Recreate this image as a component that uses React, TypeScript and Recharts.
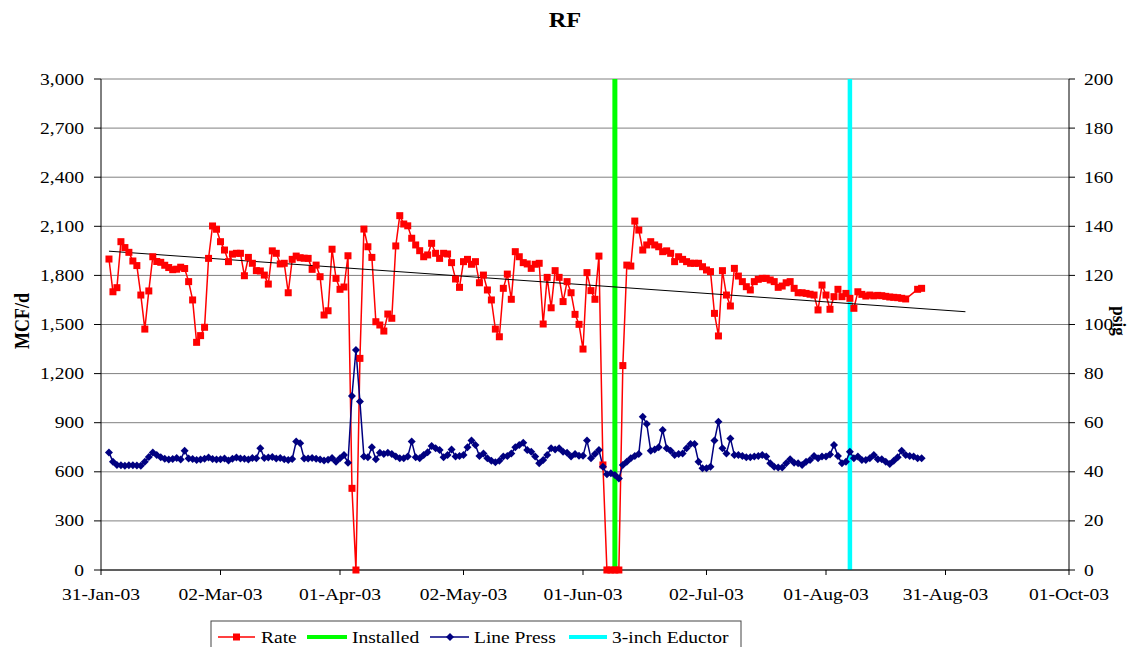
import React from "react";
import { CartesianGrid, ComposedChart, Line, XAxis, YAxis } from "recharts";

// Daily readings, first reading on day 2 (days counted from 31-Jan-03)
const FIRST_DAY = 2;

const rateMcfd: (number | null)[] = [
  1900, 1700, 1725, 2006, 1970, 1941, 1888, 1860, 1680, 1472,
  1705, 1914, 1885, 1880, 1862, 1848, 1835, 1838, 1850, 1842,
  1762, 1650, 1391, 1432, 1483, 1904, 2102, 2082, 2006, 1955,
  1884, 1930, 1935, 1935, 1798, 1910, 1874, 1829, 1827, 1802,
  1747, 1950, 1935, 1870, 1874, 1694, 1898, 1918, 1908, 1905,
  1904, 1837, 1863, 1792, 1558, 1584, 1960, 1782, 1715, 1729,
  1920, 499, 0, 1293, 2083, 1975, 1910, 1517, 1497, 1460,
  1564, 1538, 1980, 2165, 2114, 2103, 2027, 1986, 1951, 1914,
  1925, 1996, 1935, 1904, 1935, 1931, 1878, 1778, 1727, 1884,
  1898, 1868, 1884, 1755, 1802, 1711, 1650, 1472, 1425, 1721,
  1808, 1654, 1945, 1914, 1878, 1870, 1843, 1868, 1874, 1503,
  1788, 1602, 1829, 1788, 1640, 1762, 1694, 1562, 1501, 1350,
  1817, 1707, 1654, 1918, 642, 0, 0, 0, 0, 1249,
  1863, 1857, 2132, 2077, 1955, 1986, 2006, 1986, 1975, 1945,
  1950, 1935, 1884, 1914, 1898, 1884, 1874, 1874, 1874, 1853,
  1833, 1823, 1568, 1430, 1829, 1680, 1613, 1843, 1796, 1762,
  1731, 1711, 1762, 1776, 1782, 1782, 1772, 1762, 1727, 1735,
  1755, 1762, 1721, 1694, 1694, 1690, 1685, 1680, 1589, 1741,
  1680, 1593, 1670, 1715, 1670, 1690, 1660, 1599, 1700, 1684,
  1674, 1680, 1675, 1678, 1676, 1672, 1668, 1666, 1664, 1660,
  1656, null, null, 1715, 1721,
];

const linePressPsig: number[] = [
  47.9, 44.1, 42.8, 42.7, 42.5, 42.7, 42.7, 42.6, 42.5, 44.1,
  46.0, 47.9, 46.8, 45.9, 45.3, 45.0, 45.2, 45.6, 45.0, 48.6,
  45.4, 45.2, 44.8, 45.0, 45.3, 45.8, 45.2, 45.0, 45.1, 45.4,
  44.6, 45.3, 45.8, 45.4, 45.3, 45.0, 45.6, 45.5, 49.6, 45.6,
  45.8, 46.0, 45.4, 45.6, 45.1, 44.8, 45.2, 52.3, 51.6, 45.4,
  45.4, 45.6, 45.3, 45.0, 44.6, 44.9, 45.6, 44.1, 45.5, 46.8,
  43.7, 70.9, 89.6, 68.6, 46.2, 45.9, 50.0, 45.1, 47.8, 47.2,
  47.8, 47.2, 46.2, 45.5, 45.5, 46.2, 52.3, 45.9, 45.5, 46.8,
  48.0, 50.5, 49.6, 48.9, 45.9, 46.8, 49.1, 46.2, 46.4, 46.8,
  50.0, 52.7, 50.9, 46.4, 47.5, 45.5, 44.5, 43.9, 44.5, 46.2,
  46.4, 47.5, 50.0, 50.9, 51.8, 48.9, 48.2, 46.2, 43.5, 44.8,
  46.8, 49.6, 49.1, 49.6, 48.2, 47.8, 46.2, 47.2, 46.5, 46.5,
  52.7, 45.5, 47.2, 48.9, 42.1, 39.0, 39.4, 38.7, 37.3, 42.8,
  44.1, 45.5, 46.4, 47.2, 62.4, 59.5, 48.6, 49.1, 50.0, 57.0,
  49.6, 48.6, 46.8, 47.2, 47.5, 49.6, 51.3, 51.3, 44.1, 41.4,
  41.4, 42.1, 52.7, 60.4, 49.6, 47.5, 53.6, 46.8, 46.8, 46.4,
  45.9, 45.9, 46.2, 46.4, 46.8, 46.2, 43.5, 42.1, 41.8, 41.8,
  43.5, 45.1, 43.7, 43.5, 42.8, 44.1, 44.8, 46.4, 45.5, 46.2,
  46.2, 47.0, 50.9, 46.4, 43.5, 44.1, 48.2, 45.5, 46.2, 44.8,
  44.8, 45.5, 46.8, 45.1, 45.1, 44.1, 43.2, 44.5, 45.9, 48.6,
  46.8, 46.4, 46.2, 45.5, 45.5,
];

// linear trendline on Rate (end points)
const trendDays = [2, 217];
const trendMcfd = [1948, 1578];

const installedDay = 129; // 09-Jun-03
const eductorDay = 188; // 07-Aug-03

const xTickDays = [0, 30, 60, 91, 121, 152, 182, 212, 243];
const xTickLabels = [
  "31-Jan-03", "02-Mar-03", "01-Apr-03", "02-May-03", "01-Jun-03",
  "02-Jul-03", "01-Aug-03", "31-Aug-03", "01-Oct-03",
];
const leftTicks = [0, 300, 600, 900, 1200, 1500, 1800, 2100, 2400, 2700, 3000];
const rightTicks = [0, 20, 40, 60, 80, 100, 120, 140, 160, 180, 200];

const FONT = '"Liberation Serif", "Times New Roman", serif';
const SX = 1.22; // the source picture is stretched sideways

const dailyData = rateMcfd.map((rate, i) => ({
  day: FIRST_DAY + i,
  rate,
  press: linePressPsig[i],
}));
const trendData = trendDays.map((day, i) => ({ day, trend: trendMcfd[i] }));
const vline = (day: number) => [
  { day, v: leftTicks[0] },
  { day, v: leftTicks[leftTicks.length - 1] },
];

const makeTick =
  (anchor: "start" | "middle" | "end", dy: number, fmt: (v: number) => string) =>
  (props: any) => {
    const { x, y, payload } = props;
    return (
      <g transform={`translate(${x},${y})`}>
        <text
          transform={`scale(${SX},1)`}
          textAnchor={anchor}
          dy={dy}
          fontFamily={FONT}
          fontSize={16}
          fill="#000"
        >
          {fmt(payload.value)}
        </text>
      </g>
    );
  };

const squareDot = (p: any) =>
  p.cy == null || p.value == null ? (
    <g key={p.index} />
  ) : (
    <rect key={p.index} x={p.cx - 3.5} y={p.cy - 3.5} width={7} height={7} fill="#FF0000" />
  );

const diamondDot = (p: any) =>
  p.cy == null ? (
    <g key={p.index} />
  ) : (
    <polygon
      key={p.index}
      points={`${p.cx},${p.cy - 4} ${p.cx + 4},${p.cy} ${p.cx},${p.cy + 4} ${p.cx - 4},${p.cy}`}
      fill="#000080"
    />
  );

function Legend() {
  const y = 637;
  const text = (x: number, s: string) => (
    <text
      transform={`translate(${x},${y + 5.5}) scale(${SX},1)`}
      fontFamily={FONT}
      fontSize={16}
      fill="#000"
    >
      {s}
    </text>
  );
  return (
    <g>
      <rect x={211} y={621} width={530} height={32} fill="#fff" stroke="#444" strokeWidth={1} />
      <line x1={218} x2={255} y1={y} y2={y} stroke="#FF0000" strokeWidth={1.5} />
      <rect x={233} y={y - 3.5} width={7} height={7} fill="#FF0000" />
      {text(261, "Rate")}
      <line x1={307} x2={347} y1={y} y2={y} stroke="#00FF00" strokeWidth={4} />
      {text(352, "Installed")}
      <line x1={430} x2={469} y1={y} y2={y} stroke="#000080" strokeWidth={1.5} />
      <polygon points={`450,${y - 4} 454,${y} 450,${y + 4} 446,${y}`} fill="#000080" />
      {text(474, "Line Press")}
      <line x1={569} x2={607} y1={y} y2={y} stroke="#00FFFF" strokeWidth={4} />
      {text(612, "3-inch Eductor")}
    </g>
  );
}

export default function App() {
  return (
    <div style={{ position: "absolute", left: 0, top: 0, width: 1135, height: 647, background: "#fff" }}>
      <ComposedChart
        width={1135}
        height={647}
        margin={{ top: 79, right: 16, bottom: 47, left: 41 }}
      >
        <CartesianGrid yAxisId="left" vertical={false} stroke="#808080" />
        <XAxis
          dataKey="day"
          type="number"
          domain={[0, 243]}
          ticks={xTickDays}
          interval={0}
          height={30}
          stroke="#000"
          tickSize={5}
          tickMargin={14}
          tick={makeTick("middle", 11, (v) => xTickLabels[xTickDays.indexOf(v)] ?? "")}
        />
        <YAxis
          yAxisId="left"
          domain={[0, 3000]}
          ticks={leftTicks}
          interval={0}
          width={60}
          stroke="#000"
          tickSize={7}
          tickMargin={10}
          tick={makeTick("end", 5.5, (v) => v.toLocaleString("en-US"))}
        />
        <YAxis
          yAxisId="right"
          orientation="right"
          domain={[0, 200]}
          ticks={rightTicks}
          interval={0}
          width={50}
          stroke="#000"
          tickSize={6}
          tickMargin={9}
          tick={makeTick("start", 5.5, (v) => String(v))}
        />
        <Line
          data={vline(installedDay)}
          dataKey="v"
          yAxisId="left"
          stroke="#00FF00"
          strokeWidth={5}
          dot={false}
          activeDot={false}
          isAnimationActive={false}
        />
        <Line
          data={dailyData}
          dataKey="rate"
          yAxisId="left"
          stroke="#FF0000"
          strokeWidth={1.5}
          connectNulls
          dot={squareDot}
          activeDot={false}
          isAnimationActive={false}
        />
        <Line
          data={vline(eductorDay)}
          dataKey="v"
          yAxisId="left"
          stroke="#00FFFF"
          strokeWidth={4.5}
          dot={false}
          activeDot={false}
          isAnimationActive={false}
        />
        <Line
          data={trendData}
          dataKey="trend"
          yAxisId="left"
          stroke="#000"
          strokeWidth={1}
          dot={false}
          activeDot={false}
          isAnimationActive={false}
        />
        <Line
          data={dailyData}
          dataKey="press"
          yAxisId="right"
          stroke="#000080"
          strokeWidth={1.5}
          dot={diamondDot}
          activeDot={false}
          isAnimationActive={false}
        />
      </ComposedChart>
      <svg
        width={1135}
        height={647}
        style={{ position: "absolute", left: 0, top: 0, pointerEvents: "none" }}
      >
        <text
          transform={`translate(565,27) scale(${SX},1)`}
          textAnchor="middle"
          fontFamily={FONT}
          fontSize={20}
          fontWeight="bold"
        >
          RF
        </text>
        <text
          transform="translate(29,321) rotate(-90) scale(1,1.2)"
          textAnchor="middle"
          fontFamily={FONT}
          fontSize={18}
          fontWeight="bold"
        >
          MCF/d
        </text>
        <text
          transform="translate(1113,321) rotate(90) scale(1,1.15)"
          textAnchor="middle"
          fontFamily={FONT}
          fontSize={17}
          fontWeight="bold"
        >
          psig
        </text>
        <Legend />
      </svg>
    </div>
  );
}
